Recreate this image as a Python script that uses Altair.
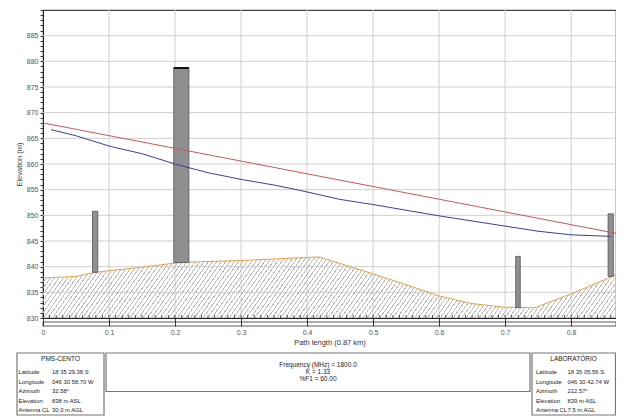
import altair as alt
import pandas as pd

# ---------------- data ----------------
terrain_x = [0.0, 0.05, 0.08, 0.10, 0.15, 0.20, 0.22, 0.30, 0.40, 0.418, 0.50, 0.55, 0.60, 0.65, 0.70, 0.745, 0.80, 0.868]
terrain_y = [837.8, 838.1, 838.9, 839.2, 839.9, 840.7, 840.9, 841.2, 841.8, 841.9, 838.6, 836.5, 834.3, 832.8, 832.1, 832.0, 834.7, 838.4]

los_x = [0.0, 0.868]
los_y = [868.0, 846.5]

fres_x = [0.012, 0.05, 0.10, 0.15, 0.20, 0.25, 0.30, 0.35, 0.388, 0.45, 0.50, 0.60, 0.70, 0.75, 0.80, 0.86]
fres_y = [866.7, 865.5, 863.5, 862.0, 860.0, 858.3, 857.0, 855.9, 854.9, 853.1, 852.1, 849.9, 847.9, 846.9, 846.2, 845.9]

obs_x1 = [0.075, 0.198, 0.716, 0.856]
obs_x2 = [0.083, 0.221, 0.723, 0.864]
obs_base = [838.9, 840.8, 832.0, 838.1]
obs_top = [850.8, 878.7, 842.0, 850.3]
obs_cap = [False, True, False, False]

x_major = [0, 0.1, 0.2, 0.3, 0.4, 0.5, 0.6, 0.7, 0.8]
x_minor = [i / 100 for i in range(0, 87)]
y_ticks = list(range(830, 891))
y_grid = [835, 840, 845, 850, 855, 860, 865, 870, 875, 880, 885]
x_grid = [0.1, 0.2, 0.3, 0.4, 0.5, 0.6, 0.7, 0.8]

left_title = "PMS-CENTO"
right_title = "LABORATÓRIO"
row_labels = ["Latitude", "Longitude", "Azimuth", "Elevation", "Antenna CL"]
left_values = ["18 35 29.38 S", "046 30 58.70 W", "32.58°", "838 m ASL", "30.0 m AGL"]
right_values = ["18 35 05.56 S", "046 30 42.74 W", "212.57°", "839 m ASL", "7.5 m AGL"]
mid_lines = ["Frequency (MHz) = 1800.0", "K = 1.33", "%F1 = 60.00"]

# ---------------- layout / style ----------------
W, H = 573, 308
XMAX = 0.868
FONT = "'Liberation Sans Narrow', 'Liberation Sans', Arial, sans-serif"

terrain = pd.DataFrame({"x": terrain_x, "y": terrain_y})
los = pd.DataFrame({"x": los_x, "y": los_y})
fres = pd.DataFrame({"x": fres_x, "y": fres_y})
obs = pd.DataFrame({"x1": obs_x1, "x2": obs_x2, "base": obs_base, "top": obs_top, "cap": obs_cap})
xminor = pd.DataFrame({"x": x_minor})
xgrid = pd.DataFrame({"x": x_grid})
ygrid = pd.DataFrame({"y": y_grid})
one = pd.DataFrame({"a": [0]})

xscale = alt.Scale(domain=[0, XMAX], nice=False, zero=False)
yscale = alt.Scale(domain=[830, 890], nice=False, zero=False)

xaxis = alt.Axis(values=x_major, labelExpr="datum.value == 0 ? '0' : format(datum.value, '.1f')",
                 tickSize=8, tickColor="#333", domainColor="#222", labelFontSize=7, labelColor="#555",
                 labelFont=FONT, labelPadding=2, labelFlush=False, labelOverlap=False,
                 title="Path length (0.87 km)", titleFont=FONT, titleFontSize=7.5,
                 titleFontWeight="normal", titleColor="#333", titlePadding=3, grid=False)
yaxis = alt.Axis(values=y_ticks, labelExpr="(datum.value % 5 == 0 && datum.value < 890) ? datum.label : ''",
                 tickSize=3, tickColor="#333", domainColor="#222", labelFontSize=7, labelColor="#555",
                 labelFont=FONT, labelPadding=2, labelOverlap=False, labelFlush=False,
                 title="Elevation (m)", titleFont=FONT, titleFontSize=7.5, titleFontWeight="normal",
                 titleColor="#444", titlePadding=3, grid=False)


def X(f):
    return alt.X(f, type="quantitative", scale=xscale, axis=xaxis)


def Y(f):
    return alt.Y(f, type="quantitative", scale=yscale, axis=yaxis)


# hatch fill via hard-stop linear gradient
k = 0.075
p = 0.0068
stops = []
i = 0
while True:
    a = i * p
    b = a + 0.26 * p
    if b + p > 0.999:
        break
    stops += [alt.GradientStop(offset=a, color="#bdbdbd"),
              alt.GradientStop(offset=b, color="#bdbdbd"),
              alt.GradientStop(offset=b, color="rgba(255,255,255,0)"),
              alt.GradientStop(offset=a + p, color="rgba(255,255,255,0)")]
    i += 1
hatch = alt.LinearGradient(gradient="linear", stops=stops, x1=0, y1=0, x2=1.1, y2=1.1 * k)

vgrid = alt.Chart(xgrid).mark_rule(color="#cfcfcf", strokeWidth=1).encode(
    x=X("x"), y=alt.value(0), y2=alt.value(H))
hgrid = alt.Chart(ygrid).mark_rule(color="#cfcfcf", strokeWidth=1).encode(
    y=Y("y"), x=alt.value(0), x2=alt.value(W))

area = alt.Chart(terrain).mark_area(fill=hatch, line=False).encode(
    x=X("x"), y=Y("y"), y2=alt.Y2Datum(830))
tline = alt.Chart(terrain).mark_line(color="#e3a445", strokeWidth=1).encode(x=X("x"), y=Y("y"))

bars = alt.Chart(obs).mark_rect(fill="#8f8f8f", stroke="#555", strokeWidth=0.8).encode(
    x=X("x1"), x2="x2", y=Y("base"), y2="top")
cap = alt.Chart(obs).transform_filter("datum.cap").mark_rule(color="#111", strokeWidth=2).encode(
    x=X("x1"), x2="x2", y=Y("top"))

red = alt.Chart(los).mark_line(color="#c8585a", strokeWidth=1).encode(x=X("x"), y=Y("y"))
blue = alt.Chart(fres).mark_line(color="#3c3f96", strokeWidth=1).encode(x=X("x"), y=Y("y"))

minor = alt.Chart(xminor).mark_rule(color="#333", strokeWidth=0.8).encode(
    x=X("x"), y=alt.value(H - 3), y2=alt.value(H))
strip = alt.Chart(one).mark_rect(fillOpacity=0, stroke="#333", strokeWidth=0.8).encode(
    x=alt.XDatum(0, scale=xscale, axis=xaxis), x2=alt.X2Datum(XMAX),
    y=alt.value(H + 4), y2=alt.value(H + 8))


def box(x0, x1, y0, y1):
    return alt.Chart(one).mark_rect(fill="white", stroke="#777", strokeWidth=1.2).encode(
        x=alt.value(x0), x2=alt.value(x1), y=alt.value(y0), y2=alt.value(y1))


def txt(s, x, y, align="left", size=5.9):
    return alt.Chart(one).mark_text(text=s, align=align, baseline="middle", fontSize=size, font=FONT,
                                    color="#222").encode(x=alt.value(x), y=alt.value(y))


row_y = [362, 371.5, 381, 390.5, 400]
mid_y = [355, 362, 369]

info = [
    box(-26, 61, 343, 405), box(63, 487, 343, 381.5), box(489, 572.5, 343, 405),
    txt(left_title, 17.5, 349, align="center", size=6.5),
    txt(right_title, 530.5, 349, align="center", size=6.5),
]
for lab, lv, rv, yy in zip(row_labels, left_values, right_values, row_y):
    info += [txt(lab, -24.5, yy), txt(lv, 9, yy), txt(lab, 493, yy), txt(rv, 524.5, yy)]
for line, yy in zip(mid_lines, mid_y):
    info.append(txt(line, 275, yy, align="center", size=6.5))

chart = alt.layer(vgrid, hgrid, area, tline, bars, cap, red, blue, minor, strip, *info).properties(
    width=W, height=H,
    autosize=alt.AutoSizeParams(type="none"),
    padding={"left": 35, "top": 2, "right": 0, "bottom": 99},
    background="white",
).configure_view(stroke="#444", strokeWidth=1.2)

chart.save("out.html", embed_options={"renderer": "svg", "actions": False})
